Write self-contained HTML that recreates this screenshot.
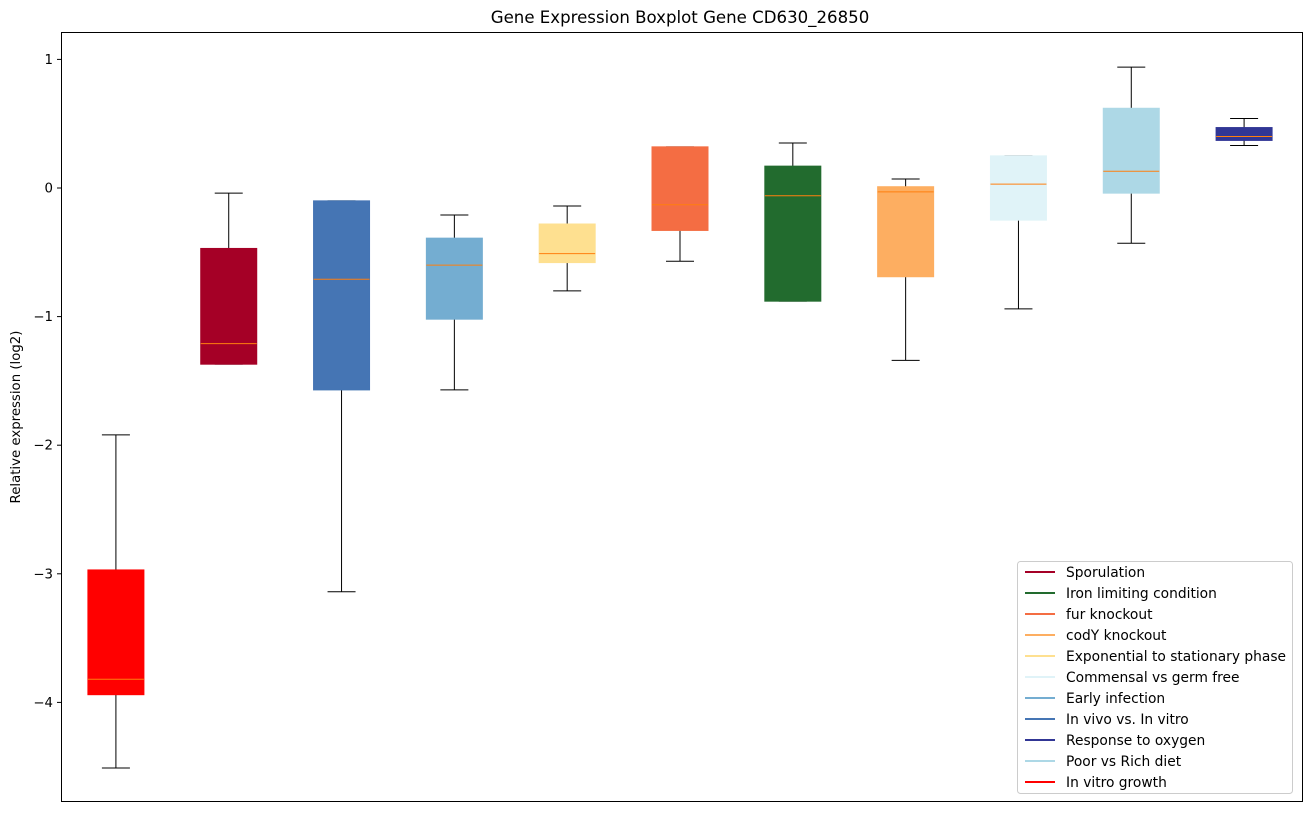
<!DOCTYPE html>
<html><head><meta charset="utf-8"><style>
body{margin:0;background:#fff;font-family:"Liberation Sans","DejaVu Sans",sans-serif}
</style></head><body>
<svg id="chart" width="1309" height="812" xmlns="http://www.w3.org/2000/svg" font-family="DejaVu Sans, Liberation Sans, sans-serif">
<text x="680" y="23" font-size="16.6" text-anchor="middle">Gene Expression Boxplot Gene CD630_26850</text>
<text transform="translate(20,417) rotate(-90)" font-size="13.3" text-anchor="middle">Relative expression (log2)</text>
<g id="plot"></g>
<rect x="61.5" y="32.5" width="1241" height="769" fill="none" stroke="#000" stroke-width="1"/>
<g id="legend"></g>
</svg>
<script>
const categories=["In vitro growth","Sporulation","In vivo vs. In vitro","Early infection","Exponential to stationary phase","fur knockout","Iron limiting condition","codY knockout","Commensal vs germ free","Poor vs Rich diet","Response to oxygen"];
const colors=["#ff0000","#a50026","#4575b4","#74add1","#fee090","#f46d43","#226b2e","#fdae61","#e0f3f8","#add8e6","#313695"];
const whisLo=[-4.51,-1.37,-3.14,-1.57,-0.80,-0.57,-0.88,-1.34,-0.94,-0.43,0.33];
const q1=[-3.94,-1.37,-1.57,-1.02,-0.58,-0.33,-0.88,-0.69,-0.25,-0.04,0.37];
const med=[-3.82,-1.21,-0.71,-0.60,-0.51,-0.13,-0.06,-0.03,0.03,0.13,0.40];
const q3=[-2.97,-0.47,-0.10,-0.39,-0.28,0.32,0.17,0.01,0.25,0.62,0.47];
const whisHi=[-1.92,-0.04,-0.10,-0.21,-0.14,0.32,0.35,0.07,0.25,0.94,0.54];
const yTicks=[1,0,-1,-2,-3,-4];
const yTickLabels=["1","0","\u22121","\u22122","\u22123","\u22124"];
const legendOrder=[1,6,5,7,4,8,3,2,10,9,0];

const NS="http://www.w3.org/2000/svg";
const L=61,R=1302,T=33,B=802;
const y=v=>188-128.6*v;
const x=i=>L+(R-L)/11*(i+0.5)-1.5;
const bw=56;
function mk(tag,attrs,parent){const e=document.createElementNS(NS,tag);for(const k in attrs)e.setAttribute(k,attrs[k]);parent.appendChild(e);return e;}
const plot=document.getElementById('plot');
yTicks.forEach((t,i)=>{
  const tk=mk('line',{x1:L-4,x2:L,y1:y(t),y2:y(t),stroke:'#000'},plot);
  
  
  const tx=mk('text',{x:L-8,y:y(t)+4.5,'font-size':13.3,'text-anchor':'end'},plot);
  tx.textContent=yTickLabels[i];
  
  
});
categories.forEach((c,i)=>{
  const g=mk('g',{},plot);
  
  
  const cx=x(i);
  mk('line',{x1:cx,x2:cx,y1:y(q1[i]),y2:y(whisLo[i]),stroke:'#000'},g);
  mk('line',{x1:cx,x2:cx,y1:y(q3[i]),y2:y(whisHi[i]),stroke:'#000'},g);
  mk('line',{x1:cx-14,x2:cx+14,y1:y(whisLo[i]),y2:y(whisLo[i]),stroke:'#000'},g);
  mk('line',{x1:cx-14,x2:cx+14,y1:y(whisHi[i]),y2:y(whisHi[i]),stroke:'#000'},g);
  mk('rect',{x:cx-bw/2,y:y(q3[i]),width:bw,height:Math.max(1,y(q1[i])-y(q3[i])),fill:colors[i],stroke:colors[i]},g);
  mk('line',{x1:cx-bw/2,x2:cx+bw/2,y1:y(med[i]),y2:y(med[i]),stroke:'#ff7f0e'},g);
});
const lg=document.getElementById('legend');
mk('rect',{x:1017.5,y:561.5,width:275,height:232,rx:3,fill:'#fff','fill-opacity':0.8,stroke:'#ccc'},lg);
legendOrder.forEach((idx,k)=>{
  const ey=572+k*21;
  const e=mk('g',{},lg);
  
  
  mk('line',{x1:1025,x2:1055,y1:ey,y2:ey,stroke:colors[idx],'stroke-width':2},e);
  const t=mk('text',{x:1066,y:ey+5,'font-size':13.8},e);
  t.textContent=categories[idx];
});
</script>
</body></html>
